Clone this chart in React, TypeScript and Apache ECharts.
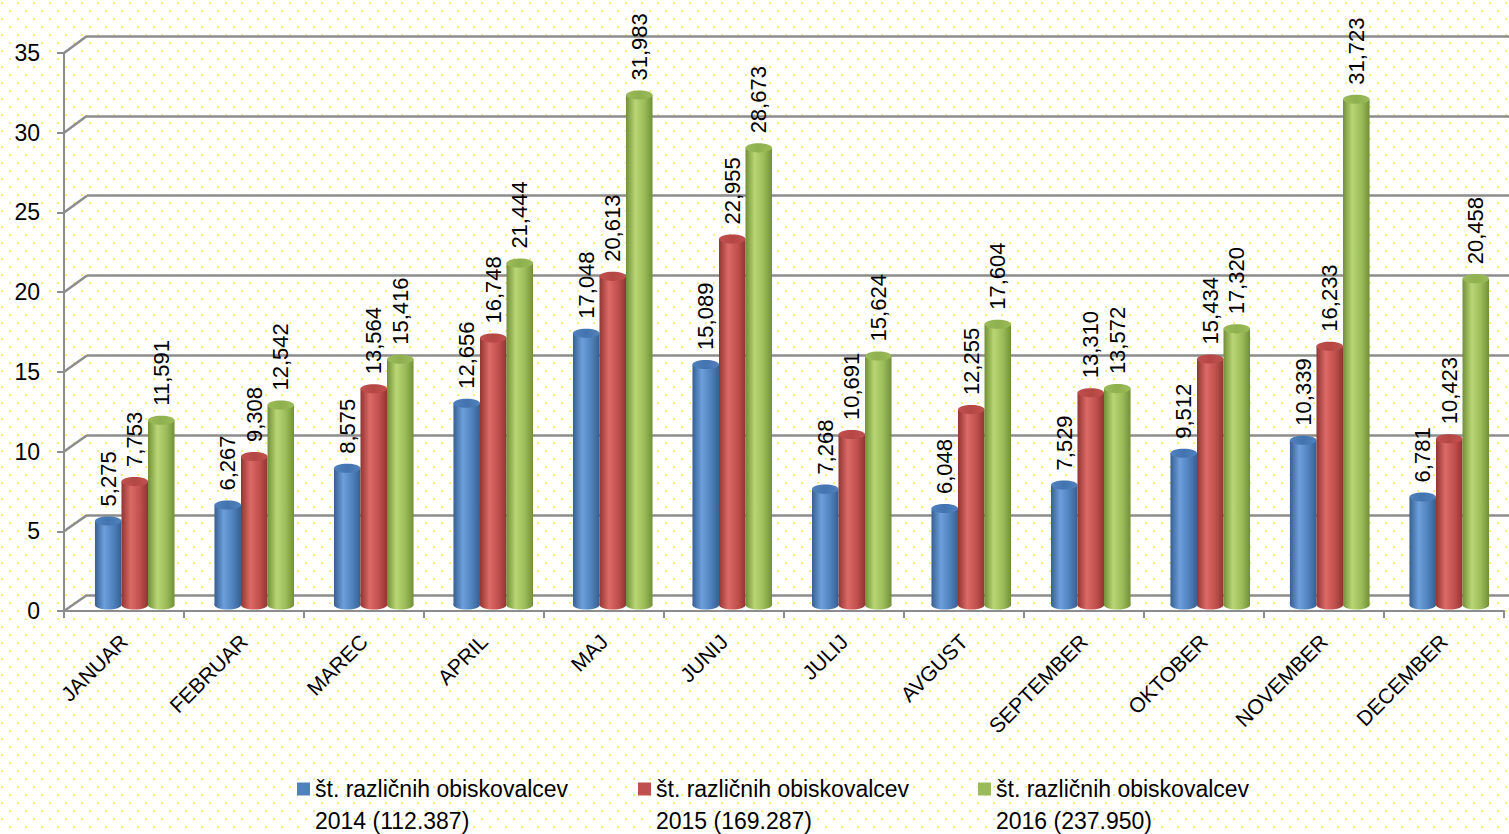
import React, { useEffect, useRef } from "react";
import * as echarts from "echarts";

const months = ["JANUAR", "FEBRUAR", "MAREC", "APRIL", "MAJ", "JUNIJ", "JULIJ", "AVGUST", "SEPTEMBER", "OKTOBER", "NOVEMBER", "DECEMBER"];
const yTicks = [0, 5, 10, 15, 20, 25, 30, 35];
const seriesNames = [
  "št. različnih obiskovalcev\n2014 (112.387)",
  "št. različnih obiskovalcev\n2015 (169.287)",
  "št. različnih obiskovalcev\n2016 (237.950)",
];
const v2014 = [5.275, 6.267, 8.575, 12.656, 17.048, 15.089, 7.268, 6.048, 7.529, 9.512, 10.339, 6.781];
const v2015 = [7.753, 9.308, 13.564, 16.748, 20.613, 22.955, 10.691, 12.255, 13.31, 15.434, 16.233, 10.423];
const v2016 = [11.591, 12.542, 15.416, 21.444, 31.983, 28.673, 15.624, 17.604, 13.572, 17.32, 31.723, 20.458];
const seriesValues = [v2014, v2015, v2016];

const palettes = [
  { base: "#4f81bd", dark: "#365f91", light: "#6d9fdc", top: "#4374b0" },
  { base: "#c0504d", dark: "#913532", light: "#dc6a66", top: "#b44744" },
  { base: "#9bbb59", dark: "#728f38", light: "#b8d774", top: "#8fb04e" },
];

const FONT = '"Liberation Sans", Arial, sans-serif';
const FRONT = { left: 64, top: 53, width: 1440, height: 558 };
const BACK = { left: 87, top: 36, width: 1480, height: 559 };
const BARS = { left: 75, top: 47, width: 1440, height: 558 };
const legendLefts = [297, 638, 978];
const GRID_COLOR = "#8c8c8c";

const fmt = (v: number) => v.toFixed(3).replace(".", ",");

export default function App() {
  const ref = useRef<HTMLDivElement>(null);
  useEffect(() => {
    const chart = echarts.init(ref.current!, null, { renderer: "svg" });
    const series = seriesValues.map((vals, k) => {
      const p = palettes[k];
      const bodyGrad = () =>
        new echarts.graphic.LinearGradient(0, 0, 1, 0, [
          { offset: 0, color: p.dark },
          { offset: 0.35, color: p.light },
          { offset: 0.7, color: p.base },
          { offset: 1, color: p.dark },
        ]);
      const topGrad = () =>
        new echarts.graphic.LinearGradient(0, 0, 1, 0, [
          { offset: 0, color: p.base },
          { offset: 0.5, color: p.top },
          { offset: 1, color: p.base },
        ]);
      return {
        type: "custom",
        name: seriesNames[k],
        xAxisIndex: 2,
        yAxisIndex: 2,
        data: vals.map((v, i) => [i, v]),
        encode: { x: 0, y: 1 },
        itemStyle: { color: p.base },
        clip: false,
        renderItem: (params: any, api: any) => {
          const i = api.value(0);
          const v = api.value(1);
          const top = api.coord([i, v]);
          const base = api.coord([i, 0]);
          const band = api.size([1, 0])[0];
          const w = band * 0.222;
          const cx = top[0] + (k - 1) * w;
          const ry = w * 0.17;
          return {
            type: "group",
            children: [
              { type: "ellipse", shape: { cx, cy: base[1], rx: w / 2, ry }, style: { fill: bodyGrad() } },
              {
                type: "rect",
                shape: { x: cx - w / 2, y: top[1], width: w, height: base[1] - top[1] },
                style: { fill: bodyGrad() },
              },
              { type: "ellipse", shape: { cx, cy: top[1], rx: w / 2, ry }, style: { fill: topGrad() } },
              {
                type: "text",
                x: cx,
                y: top[1] - ry - 10,
                rotation: Math.PI / 2,
                style: {
                  text: fmt(v),
                  align: "left",
                  verticalAlign: "middle",
                  fill: "#000",
                  fontSize: 22,
                  fontFamily: FONT,
                },
              },
            ],
          };
        },
      };
    });

    const option: any = {
      animation: false,
      backgroundColor: "transparent",
      grid: [{ ...FRONT }, { ...BACK }, { ...BARS }],
      xAxis: [
        {
          type: "category",
          gridIndex: 0,
          data: months,
          axisLine: { show: true, lineStyle: { color: GRID_COLOR, width: 2 } },
          axisTick: { show: true, length: 7, lineStyle: { color: GRID_COLOR, width: 2 } },
          axisLabel: { rotate: 45, fontSize: 21, color: "#000", fontFamily: FONT, margin: 27, interval: 0 },
          splitLine: { show: false },
        },
        { type: "category", gridIndex: 1, data: months, show: false },
        { type: "category", gridIndex: 2, data: months, show: false },
      ],
      yAxis: [
        {
          type: "value",
          gridIndex: 0,
          min: 0,
          max: 35,
          interval: 5,
          axisLine: { show: true, lineStyle: { color: GRID_COLOR, width: 2 } },
          axisTick: { show: true, length: 7, lineStyle: { color: GRID_COLOR, width: 2 } },
          axisLabel: { fontSize: 23, color: "#000", fontFamily: FONT, margin: 24 },
          splitLine: { show: false },
        },
        {
          type: "value",
          gridIndex: 1,
          min: 0,
          max: 35,
          interval: 5,
          axisLine: { show: false },
          axisTick: { show: false },
          axisLabel: { show: false },
          splitLine: { show: true, lineStyle: { color: GRID_COLOR, width: 2.5 } },
        },
        { type: "value", gridIndex: 2, min: 0, max: 35, interval: 5, show: false, splitLine: { show: false } },
      ],
      legend: seriesNames.map((n, i) => ({
        data: [n],
        left: legendLefts[i],
        top: 741,
        padding: 0,
        itemWidth: 13,
        itemHeight: 13,
        icon: "rect",
        selectedMode: false,
        formatter: (name: string) => " \n" + name,
        textStyle: {
          fontSize: 23,
          lineHeight: 32,
          color: "#000",
          fontFamily: FONT,
        },
      })),
      series,
    };
    chart.setOption(option);

    const lines = yTicks.map((v) => {
      const yf = chart.convertToPixel({ yAxisIndex: 0 }, v) as number;
      const yb = chart.convertToPixel({ yAxisIndex: 1 }, v) as number;
      return {
        type: "line",
        z: 0,
        shape: { x1: FRONT.left, y1: yf, x2: BACK.left, y2: yb },
        style: { stroke: GRID_COLOR, lineWidth: 2.5 },
      };
    });
    chart.setOption({ graphic: lines });

    return () => chart.dispose();
  }, []);

  return (
    <div
      ref={ref}
      style={{
        position: "fixed",
        left: 0,
        top: 0,
        width: 1509,
        height: 834,
        backgroundColor: "#ffffff",
        backgroundImage:
          "radial-gradient(circle, #f3ee86 1px, rgba(255,255,255,0) 1.6px), radial-gradient(circle, #f3ee86 1px, rgba(255,255,255,0) 1.6px)",
        backgroundSize: "16px 16px",
        backgroundPosition: "2px 3px, 10px 11px",
      }}
    />
  );
}
